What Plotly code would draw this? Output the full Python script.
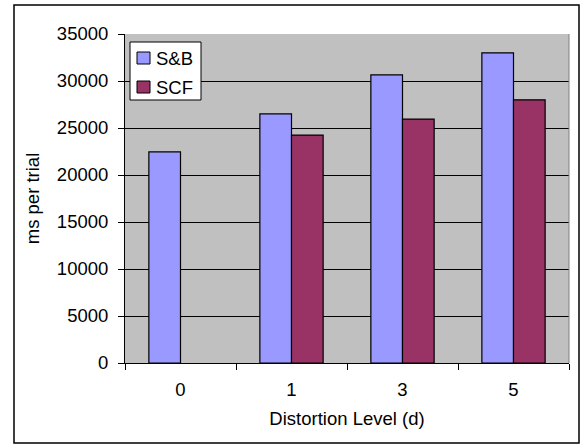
import plotly.graph_objects as go

categories = ["0", "1", "3", "5"]
sb_values = [22450, 26500, 30650, 33000]
scf_values = [None, 24250, 25950, 28000]
y_ticks = [0, 5000, 10000, 15000, 20000, 25000, 30000, 35000]
y_tick_labels = [str(v) for v in y_ticks]
series_names = ["S&B", "SCF"]
series_colors = ["#9999FF", "#993366"]

W, H = 582, 445
L, R, T, B = 125, 13, 34, 82
pw, ph = W - L - R, H - T - B

def px_x(x):
    return (x - L) / pw

def px_y(y):
    return (H - B - y) / ph

FONT = "Liberation Sans, Arial, sans-serif"
FS = 18.5

fig = go.Figure()
for name, vals, col in zip(series_names, [sb_values, scf_values], series_colors):
    fig.add_trace(go.Bar(name=name, x=categories, y=vals, showlegend=False,
                         marker=dict(color=col, line=dict(color="black", width=1.2))))

shapes = [
    dict(type="rect", xref="paper", yref="paper",
         x0=px_x(14), x1=px_x(579), y0=px_y(443), y1=px_y(5),
         line=dict(color="black", width=1.5), fillcolor="rgba(0,0,0,0)", layer="below"),
    dict(type="line", xref="paper", yref="paper",
         x0=1, x1=1, y0=0, y1=1, line=dict(color="#808080", width=1)),
    # legend box
    dict(type="rect", xref="paper", yref="paper",
         x0=px_x(130), x1=px_x(201), y0=px_y(100), y1=px_y(42),
         line=dict(color="black", width=1), fillcolor="white"),
]
annotations = []
legend_rows_y = [58, 87]
for name, col, yc in zip(series_names, series_colors, legend_rows_y):
    shapes.append(dict(type="rect", xref="paper", yref="paper",
                       x0=px_x(137), x1=px_x(150), y0=px_y(yc + 6), y1=px_y(yc - 6),
                       line=dict(color="black", width=1), fillcolor=col))
    annotations.append(dict(xref="paper", yref="paper", x=px_x(154), y=px_y(yc),
                            xanchor="left", yanchor="middle", showarrow=False,
                            text=name, font=dict(size=FS, family=FONT, color="black")))

fig.update_layout(
    width=W, height=H,
    margin=dict(l=L, r=R, t=T, b=B),
    paper_bgcolor="white",
    plot_bgcolor="#C0C0C0",
    barmode="group",
    bargap=0.43,
    bargroupgap=0,
    font=dict(family=FONT, size=FS, color="black"),
    showlegend=False,
    xaxis=dict(
        type="category",
        showline=True, linecolor="black", linewidth=1,
        ticks="outside", ticklen=6, tickcolor="black", tickson="boundaries",
        showgrid=False,
        ticklabelstandoff=10,
        title=dict(text="Distortion Level (d)", font=dict(size=FS), standoff=12),
        tickfont=dict(size=FS),
    ),
    yaxis=dict(
        range=[0, 35000],
        tickvals=y_ticks,
        ticktext=y_tick_labels,
        showline=True, linecolor="black", linewidth=1,
        ticks="outside", ticklen=6, tickcolor="black",
        showgrid=True, gridcolor="black", gridwidth=1,
        zeroline=False,
        ticklabelstandoff=6,
        title=dict(text="ms per trial", font=dict(size=FS), standoff=12),
        tickfont=dict(size=FS),
    ),
    shapes=shapes,
    annotations=annotations,
)

fig.write_html("out.html")
